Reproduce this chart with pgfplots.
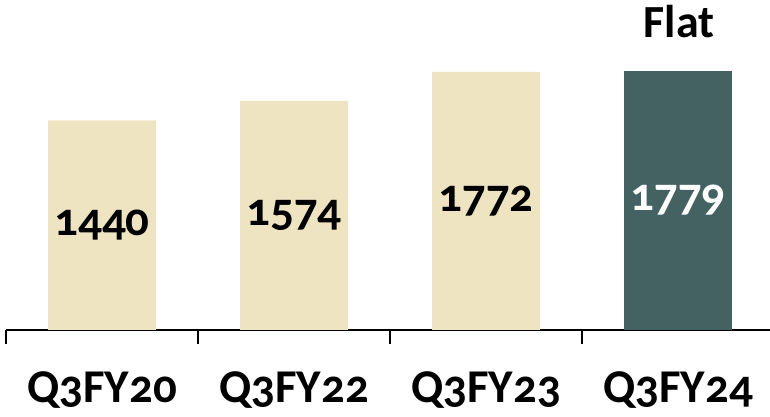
\documentclass[border=0pt]{standalone}
\usepackage{fontspec}
\setmainfont{Carlito}[Numbers=OldStyle]
\newfontfamily\flatfont{Carlito}
\usepackage{pgfplots}
\usepackage{pgfplotstable}
\pgfplotsset{compat=1.18}

\definecolor{barBeige}{HTML}{EFE4C2}
\definecolor{barTeal}{HTML}{446262}

% quarterly values; the last quarter is highlighted
\pgfplotstableread{
x v
0 1440
1 1574
2 1772
}\pastq
\pgfplotstableread{
x v
3 1779
}\curq

\begin{document}
\begin{tikzpicture}[x=1pt,y=1pt]
\path[use as bounding box] (0,0) rectangle (770,417);
\clip (0,0) rectangle (770,417);
\begin{axis}[
  at={(6pt,87pt)}, anchor=south west,
  scale only axis, width=768pt, height=300pt,
  xmin=-0.5, xmax=3.5, ymin=0, ymax=2060,
  hide y axis,
  axis x line*=bottom,
  axis line style={black, line width=1.5pt},
  xtick={0,1,2,3},
  xticklabels={Q3FY20,Q3FY22,Q3FY23,Q3FY24},
  major tick length=0pt,
  xticklabel style={anchor=base, yshift=-72pt, font=\bfseries\fontsize{47}{47}\selectfont},
  extra x ticks={-0.5,0.5,1.5,2.5,3.5},
  extra x tick labels={},
  extra x tick style={major tick length=14pt, tick align=outside,
    tick style={black, line width=1.5pt}},
  clip=false,
]
\addplot[ybar, bar width=108pt, bar shift=0pt, fill=barBeige, draw=none]
  table[x=x, y=v] {\pastq};
\addplot[ybar, bar width=108pt, bar shift=0pt, fill=barTeal, draw=none]
  table[x=x, y=v] {\curq};
% value labels centred in each bar
\addplot[draw=none, mark=none, point meta=explicit symbolic,
  nodes near coords,
  every node near coord/.style={anchor=center, text=black,
    font=\bfseries\fontsize{47}{47}\selectfont}]
  table[x=x, y expr=\thisrow{v}/2, meta=v] {\pastq};
\addplot[draw=none, mark=none, point meta=explicit symbolic,
  nodes near coords,
  every node near coord/.style={anchor=center, text=white,
    font=\bfseries\fontsize{47}{47}\selectfont}]
  table[x=x, y expr=\thisrow{v}/2, meta=v] {\curq};
\end{axis}
\node[anchor=base, font=\flatfont\bfseries\fontsize{46}{46}\selectfont] at (679,379) {Flat};
\end{tikzpicture}
\end{document}
